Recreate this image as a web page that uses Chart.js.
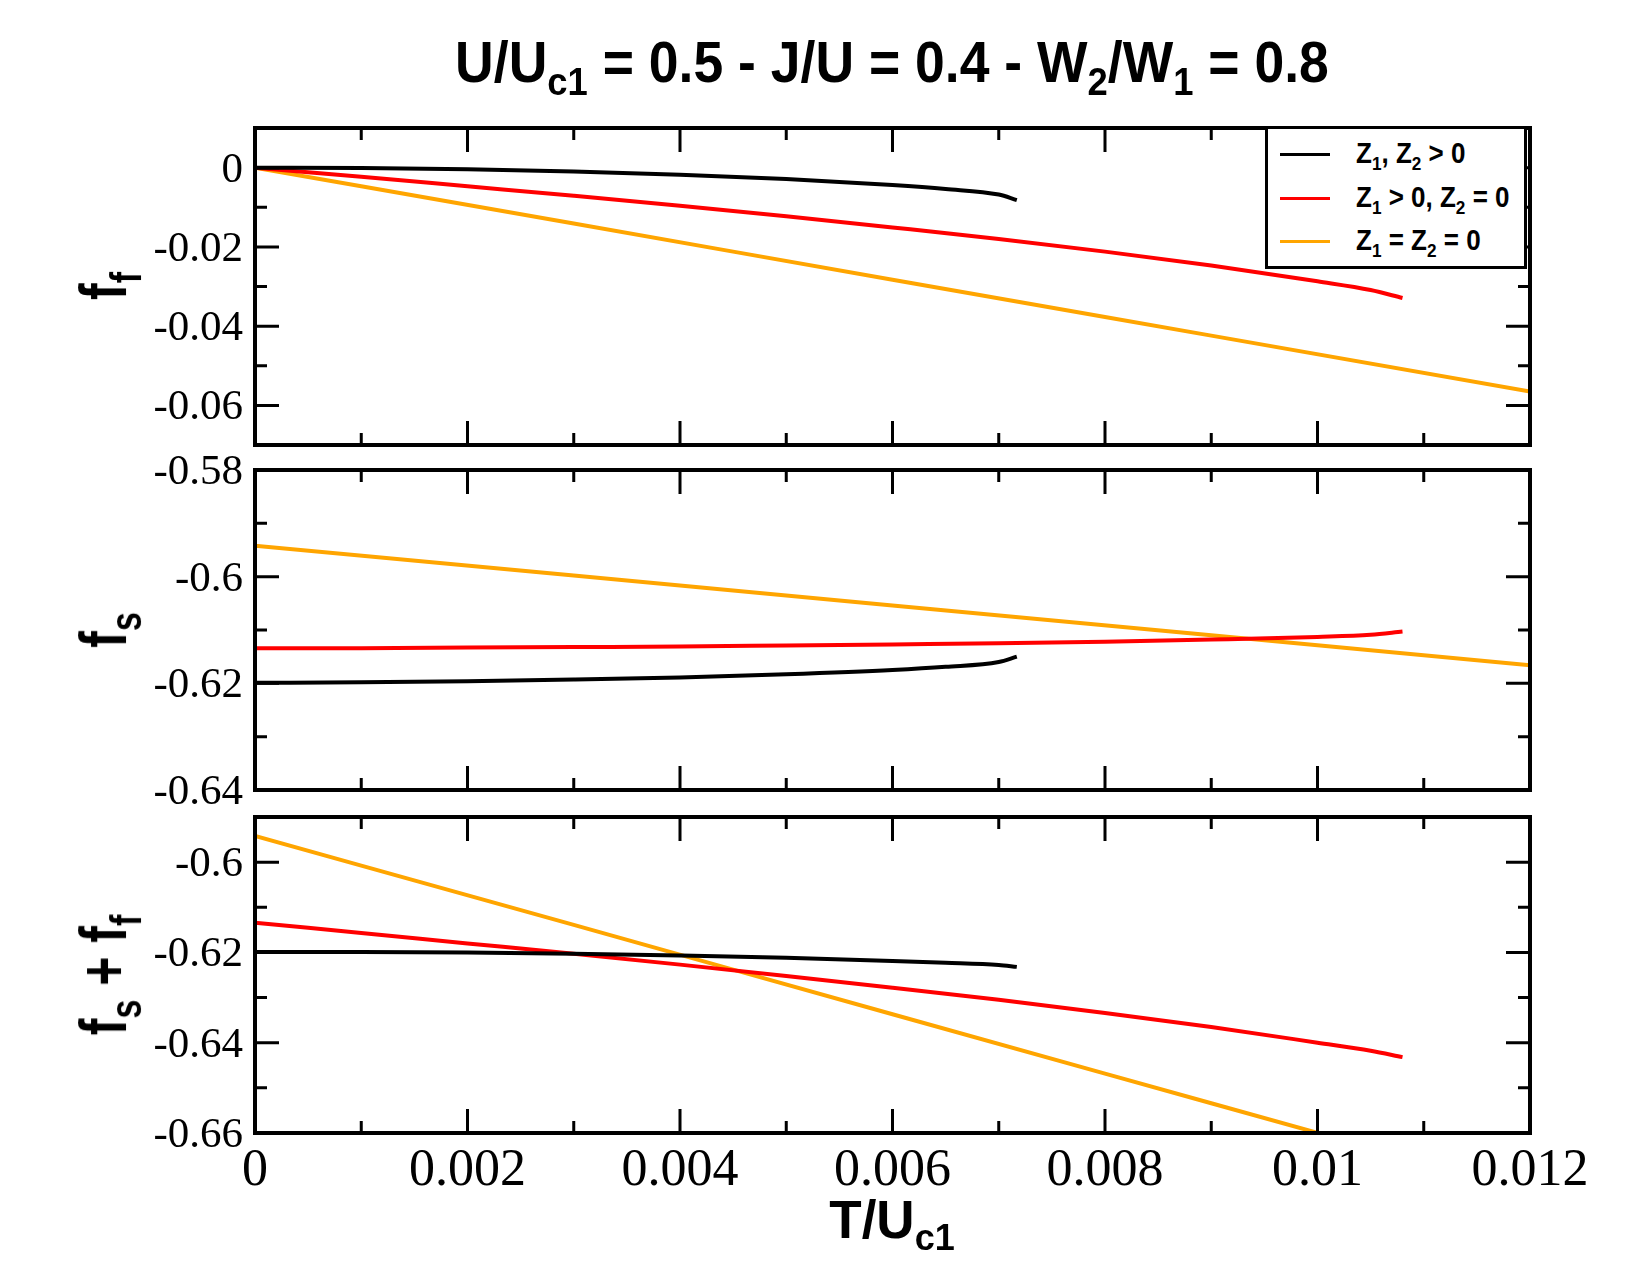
<!DOCTYPE html>
<html><head><meta charset="utf-8">
<script src="https://cdn.jsdelivr.net/npm/chart.js@4/dist/chart.umd.min.js"></script>
<style>
body{margin:0;background:#fff;}
#wrap{position:relative;width:1650px;height:1275px;overflow:hidden;font-family:"Liberation Sans",Arial,sans-serif;background:#fff;}
canvas{position:absolute;left:0;top:0;}
.t{position:absolute;font-weight:bold;color:#000;white-space:nowrap;line-height:1;}
.sub{position:relative;font-size:0.68em;top:0.33em;}
.rot{transform:translate(-50%,-50%) rotate(-90deg) scale(1,1.32);transform-origin:center center;}
#legend{position:absolute;left:1265px;top:126px;width:256px;height:137px;border:3px solid #000;background:#fff;}
.lrow{position:absolute;left:0;width:100%;}
.lline{position:absolute;left:12px;width:50px;height:3px;}
.ltxt{position:absolute;left:88px;font-weight:bold;font-size:26px;line-height:1;white-space:nowrap;transform:scale(1,1.12);transform-origin:left center;}
.lsub{position:relative;font-size:0.66em;top:0.35em;}
</style></head>
<body>
<div id="wrap">
<canvas id="c1" width="1650" height="1275"></canvas>
<canvas id="c2" width="1650" height="1275"></canvas>
<canvas id="c3" width="1650" height="1275"></canvas>
<div class="t" id="title" style="left:892px;top:36px;font-size:53px;transform:translateX(-50%) scale(1.01,1.08);">U/U<span class="sub">c1</span> = 0.5 - J/U = 0.4 - W<span class="sub">2</span>/W<span class="sub">1</span> = 0.8</div>
<div class="t rot" style="left:104px;top:286px;font-size:50px;">f<span class="sub">f</span></div>
<div class="t rot" style="left:104px;top:630px;font-size:50px;">f<span class="sub">s</span></div>
<div class="t rot" style="left:104px;top:975px;font-size:50px;">f<span class="sub">s</span> + f<span class="sub">f</span></div>
<div class="t" style="left:892px;top:1193px;font-size:53px;transform:translateX(-50%);">T/U<span class="sub">c1</span></div>
<div id="legend"></div>
</div>
<script>
// ---------- data ----------
const seriesNames = ['Z<span class="lsub">1</span>, Z<span class="lsub">2</span> &gt; 0',
                     'Z<span class="lsub">1</span> &gt; 0, Z<span class="lsub">2</span> = 0',
                     'Z<span class="lsub">1</span> = Z<span class="lsub">2</span> = 0'];
const seriesColors = ['#000000','#ff0000','#ffa500'];

const xBlack  = [0,0.001,0.002,0.003,0.004,0.005,0.006,0.0065,0.007,0.00717];
const ffBlack = [0,-0.0001,-0.0004,-0.0010,-0.0018,-0.0029,-0.0044,-0.0054,-0.0068,-0.0082];
const fsBlack = [-0.6199,-0.6198,-0.6196,-0.6193,-0.6189,-0.6183,-0.6175,-0.6169,-0.6160,-0.6150];
const sumBlack= [-0.6199,-0.6199,-0.6200,-0.6203,-0.6207,-0.6212,-0.6219,-0.6223,-0.6228,-0.6232];

const xRed  = [0,0.001,0.002,0.003,0.004,0.005,0.006,0.007,0.008,0.009,0.010,0.0105,0.0108];
const ffRed = [0,-0.0023,-0.0047,-0.0071,-0.0096,-0.0123,-0.0151,-0.0180,-0.0212,-0.0247,-0.0287,-0.0309,-0.0329];
const fsRed = [-0.6134,-0.6134,-0.6133,-0.6132,-0.6131,-0.6129,-0.6127,-0.6125,-0.6122,-0.6118,-0.6113,-0.6109,-0.6103];
const sumRed= [-0.6134,-0.6157,-0.6180,-0.6203,-0.6227,-0.6252,-0.6278,-0.6305,-0.6334,-0.6365,-0.6400,-0.6418,-0.6432];

const xOrange  = [0,0.003,0.006,0.009,0.012];
const ffOrange = [0,-0.0141,-0.0283,-0.0424,-0.0565];
const fsOrange = [-0.5942,-0.5998,-0.6054,-0.6110,-0.6166];
const sumOrange= [-0.5942,-0.6139,-0.6337,-0.6534,-0.6731];

const xMajorTicks = [0,0.002,0.004,0.006,0.008,0.010,0.012];
const xTickLabels = ['0','0.002','0.004','0.006','0.008','0.01','0.012'];
const xMinorTicks = [0.001,0.003,0.005,0.007,0.009,0.011];

const p1YMajor = [0,-0.02,-0.04,-0.06], p1YLabels = ['0','-0.02','-0.04','-0.06'], p1YMinor = [-0.01,-0.03,-0.05];
const p2YMajor = [-0.58,-0.6,-0.62,-0.64], p2YLabels = ['-0.58','-0.6','-0.62','-0.64'], p2YMinor = [-0.59,-0.61,-0.63];
const p3YMajor = [-0.6,-0.62,-0.64,-0.66], p3YLabels = ['-0.6','-0.62','-0.64','-0.66'], p3YMinor = [-0.61,-0.63,-0.65];

// ---------- legend ----------
const lg = document.getElementById('legend');
const rowY = [25, 69, 112];
seriesNames.forEach((n,i)=>{
  const r = document.createElement('div'); r.className='lrow'; r.style.top = rowY[i]+'px';
  r.innerHTML = '<div class="lline" style="top:-1px;background:'+seriesColors[i]+'"></div><div class="ltxt" style="top:-14px">'+n+'</div>';
  lg.appendChild(r);
});

// ---------- plugin ----------
const framePlugin = {
  id:'frame',
  afterDraw(chart, args, o){
    const ctx = chart.ctx, a = chart.chartArea, xs = chart.scales.x, ys = chart.scales.y;
    ctx.save();
    ctx.strokeStyle = '#000'; ctx.lineCap='butt';
    ctx.lineWidth = 3;
    const MAJ = 24, MIN = 12;
    const vt = (px, len) => { ctx.beginPath(); ctx.moveTo(px, a.bottom); ctx.lineTo(px, a.bottom-len); ctx.moveTo(px, a.top); ctx.lineTo(px, a.top+len); ctx.stroke(); };
    const ht = (py, len) => { ctx.beginPath(); ctx.moveTo(a.left, py); ctx.lineTo(a.left+len, py); ctx.moveTo(a.right, py); ctx.lineTo(a.right-len, py); ctx.stroke(); };
    xMajorTicks.forEach(v => vt(xs.getPixelForValue(v), MAJ));
    xMinorTicks.forEach(v => vt(xs.getPixelForValue(v), MIN));
    o.yMajor.forEach(v => ht(ys.getPixelForValue(v), MAJ));
    o.yMinor.forEach(v => ht(ys.getPixelForValue(v), MIN));
    ctx.lineWidth = 4;
    ctx.strokeRect(a.left, a.top, a.right-a.left, a.bottom-a.top);
    ctx.fillStyle = '#000';
    ctx.font = '43px "Liberation Serif", "Times New Roman", serif';
    ctx.textAlign = 'right'; ctx.textBaseline = 'alphabetic';
    o.yMajor.forEach((v,i) => ctx.fillText(o.yLabels[i], a.left-12, ys.getPixelForValue(v)+14));
    if (o.showX) {
      ctx.font = '52px "Liberation Serif", "Times New Roman", serif';
      ctx.textAlign = 'center';
      xMajorTicks.forEach((v,i) => ctx.fillText(xTickLabels[i], xs.getPixelForValue(v), a.bottom+52));
    }
    ctx.restore();
  }
};

function pts(xa, ya){ return xa.map((x,i)=>({x:x, y:ya[i]})); }

function makeChart(id, top, bottom, yMin, yMax, sets, fo){
  new Chart(document.getElementById(id), {
    type:'line',
    data:{datasets: sets.map((s,i)=>({data:s, borderColor:seriesColors[i], borderWidth:4, pointRadius:0, fill:false, tension:0, cubicInterpolationMode:'monotone'}))},
    options:{
      responsive:false, animation:false, devicePixelRatio:1, events:[],
      layout:{padding:{left:255, right:1650-1530, top:top, bottom:1275-bottom}},
      scales:{
        x:{type:'linear', min:0, max:0.012, display:false},
        y:{type:'linear', min:yMin, max:yMax, display:false}
      },
      plugins:{legend:{display:false}, tooltip:{enabled:false}, frame:fo}
    },
    plugins:[framePlugin]
  });
}

makeChart('c1', 128, 445, -0.07, 0.01,
  [pts(xBlack,ffBlack), pts(xRed,ffRed), pts(xOrange,ffOrange)],
  {yMajor:p1YMajor, yLabels:p1YLabels, yMinor:p1YMinor, showX:false});
makeChart('c2', 470, 790, -0.64, -0.58,
  [pts(xBlack,fsBlack), pts(xRed,fsRed), pts(xOrange,fsOrange)],
  {yMajor:p2YMajor, yLabels:p2YLabels, yMinor:p2YMinor, showX:false});
makeChart('c3', 817, 1133, -0.66, -0.59,
  [pts(xBlack,sumBlack), pts(xRed,sumRed), pts(xOrange,sumOrange)],
  {yMajor:p3YMajor, yLabels:p3YLabels, yMinor:p3YMinor, showX:true});
</script>
</body></html>
